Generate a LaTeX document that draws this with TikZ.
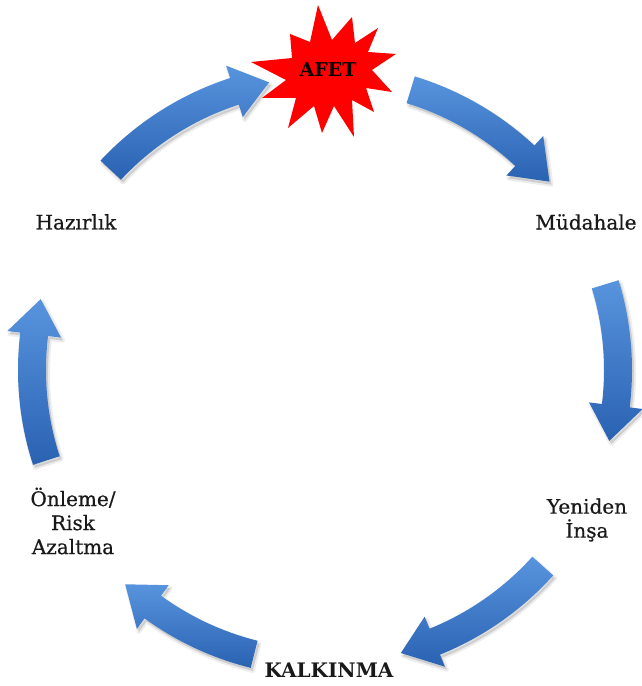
\documentclass[tikz,border=0pt]{standalone}
\usepackage{fontspec}
\setmainfont{DejaVu Serif}
\newfontfamily\labelfont{DejaVu Serif}[FakeBold=0.6]
\begin{document}
\begin{tikzpicture}[x=1pt,y=1pt,
  arrowfill/.style={top color=arrowtop, bottom color=arrowbot},
  arrowshadow/.style={fill=black, fill opacity=0.13, draw=black, draw opacity=0.07, line width=4pt, line join=round},
  label/.style={text=labelcol, font=\labelfont\fontsize{20}{24}\selectfont, inner sep=0pt, align=center},
  boldlabel/.style={label, font=\bfseries\fontsize{20}{24}\selectfont}]
\definecolor{arrowtop}{RGB}{88,148,222}
\definecolor{arrowbot}{RGB}{42,98,178}
\definecolor{labelcol}{RGB}{25,25,25}
\definecolor{starred}{RGB}{255,0,0}
\useasboundingbox (0,0) rectangle (642,686);
\fill[white] (0,0) rectangle (642,686);
\coordinate (C) at (325,316);
\def\Rm{293}\def\Ro{307}\def\Ri{279}\def\Rho{320}\def\Rhi{266}
\newcommand{\cyclearrowpath}[2]{%
  ([shift={(C)}]#1:\Ro) arc[start angle=#1, end angle=\myhb, radius=\Ro]
  -- ([shift={(C)}]\myhb:\Rho) -- ([shift={(C)}]#2:\Rm) -- ([shift={(C)}]\myhb:\Rhi)
  -- ([shift={(C)}]\myhb:\Ri) arc[start angle=\myhb, end angle=#1, radius=\Ri] -- cycle}
\newcommand{\cyclearrow}[2]{%
  \pgfmathsetmacro\myhb{#2+7}%
  \begin{scope}[shift={(2,-3)}]
    \path[arrowshadow] \cyclearrowpath{#1}{#2};
  \end{scope}
  \path[arrowfill] \cyclearrowpath{#1}{#2};}
\cyclearrow{137}{101}
\cyclearrow{73}{40}
\cyclearrow{17}{-14}
\cyclearrow{-42}{-75}
\cyclearrow{-104}{-133}
\cyclearrow{-162}{-194}
% star
\fill[starred] (318,681) -- (332,646) -- (352,669) -- (355,643) -- (378,658) -- (368,634)
  -- (396,632) -- (372,616) -- (392,594) -- (366,598) -- (374,574) -- (352,586)
  -- (354,549) -- (334,580) -- (322,553) -- (314,580) -- (288,558) -- (296,588)
  -- (262,588) -- (286,606) -- (251,624) -- (292,628) -- (290,652) -- (310,644) -- cycle;
\node[boldlabel, font=\bfseries\fontsize{19}{22}\selectfont, text=black] (afet) at (328,616) {AFET};
\node[label] (hazirlik) at (76,464) {Hazırlık};
\node[label] (mudahale) at (586,464) {Müdahale};
\node[label] (onleme) at (73,165) {Önleme/\\Risk\\Azaltma};
\node[label] (yeniden) at (587,166) {Yeniden\\İnşa};
\node[boldlabel] (kalkinma) at (329,16) {KALKINMA};
\end{tikzpicture}
\end{document}
